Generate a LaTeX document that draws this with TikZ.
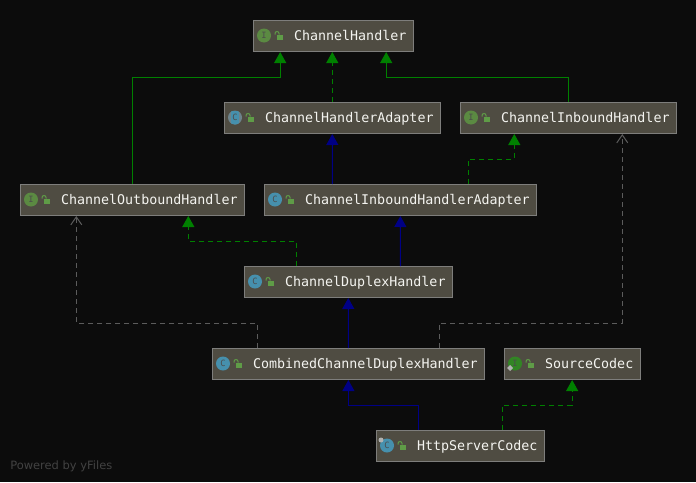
\documentclass[tikz,border=0pt]{standalone}
\usepackage{fontspec}
\setmainfont{DejaVu Sans}
\setmonofont{DejaVu Sans Mono}
\usetikzlibrary{arrows.meta}
\definecolor{canvascol}{HTML}{0C0C0C}
\definecolor{boxcol}{HTML}{4F4C42}
\definecolor{rimcol}{HTML}{7E7E7C}
\definecolor{inkcol}{HTML}{F4F4F0}
\definecolor{interfacecol}{HTML}{5B8A42}
\definecolor{classcol}{HTML}{4690AD}
\definecolor{lockcol}{HTML}{5F9C47}
\definecolor{greencol}{HTML}{008000}
\definecolor{bluecol}{HTML}{000085}
\definecolor{usescol}{HTML}{5C5C5C}
\tikzset{
  classbox/.style={draw=rimcol,line width=0.75pt,fill=boxcol,anchor=west,minimum height=23.25pt,
    inner xsep=5.25pt,inner ysep=0pt,outer sep=0pt,text=inkcol,text height=8.5pt,text depth=1pt,
    font=\ttfamily\fontsize{10}{10}\selectfont,execute at begin node=\hspace*{25.5pt}},
  roundicon/.style={circle,inner sep=0pt,minimum size=10.5pt,text=black!70,font=\ttfamily\fontsize{6.5}{6.5}\selectfont},
  interfaceicon/.style={roundicon,fill=interfacecol},
  classicon/.style={roundicon,fill=classcol},
  abstracticon/.style={roundicon,fill=rimcol!70!classcol,
    path picture={\fill[classcol] ([shift={(-4,-7)}]path picture bounding box.center) rectangle ++(8,14);}},
  solidgreen/.style={draw=greencol,line width=0.75pt,-{Triangle[width=9pt,length=8.25pt]},shorten >=0.75pt},
  dashedgreen/.style={solidgreen,dash pattern=on 3.75pt off 3pt},
  solidblue/.style={draw=bluecol,line width=0.75pt,-{Triangle[width=9pt,length=8.25pt]},shorten >=0.75pt},
  usesline/.style={draw=usescol,line width=0.75pt,dash pattern=on 3.75pt off 3pt,-{Straight Barb[width=8.25pt,length=6pt]},shorten >=0.75pt},
  lockicon/.pic={
    \fill[lockcol] (-2,-1) rectangle (4,4.5);
    \draw[lockcol,line width=0.75pt] (-4,-1) -- (-4,-2) arc[start angle=180,end angle=360,radius=2] -- (0,-1);
  }
}
\begin{document}
\begin{tikzpicture}[x=0.75pt,y=-0.75pt]
\fill[canvascol] (0,0) rectangle (696,482);
\useasboundingbox (0,0) rectangle (696,482);
% boxes
\node[classbox] (channelHandler) at (253,35.5) {ChannelHandler};
\node[classbox] (handlerAdapter) at (224,117.5) {ChannelHandlerAdapter};
\node[classbox] (inboundHandler) at (460,117.5) {ChannelInboundHandler};
\node[classbox] (outboundHandler) at (20,199.5) {ChannelOutboundHandler};
\node[classbox] (inboundAdapter) at (264,199.5) {ChannelInboundHandlerAdapter};
\node[classbox] (duplexHandler) at (244,281.5) {ChannelDuplexHandler};
\node[classbox] (combinedHandler) at (212,363.5) {CombinedChannelDuplexHandler};
\node[classbox] (sourceCodec) at (504,363.5) {SourceCodec};
\node[classbox] (serverCodec) at (376,445.5) {HttpServerCodec};
% icons
\node[interfaceicon] (channelHandlerIcon) at ([shift={(11,0)}]channelHandler.west) {I};
\node[abstracticon] (handlerAdapterIcon) at ([shift={(11,0)}]handlerAdapter.west) {C};
\node[interfaceicon] (inboundHandlerIcon) at ([shift={(11,0)}]inboundHandler.west) {I};
\node[interfaceicon] (outboundHandlerIcon) at ([shift={(11,0)}]outboundHandler.west) {I};
\node[classicon] (inboundAdapterIcon) at ([shift={(11,0)}]inboundAdapter.west) {C};
\node[classicon] (duplexHandlerIcon) at ([shift={(11,0)}]duplexHandler.west) {C};
\node[classicon] (combinedHandlerIcon) at ([shift={(11,0)}]combinedHandler.west) {C};
\node[interfaceicon,fill=greencol!45!interfacecol] (sourceCodecIcon) at ([shift={(11,0)}]sourceCodec.west) {I};
\node[classicon] (serverCodecIcon) at ([shift={(11,0)}]serverCodec.west) {C};
\fill[rimcol!60!white] ([shift={(-8,4.5)}]sourceCodecIcon.center) -- ++(3,-3) -- ++(3,3) -- ++(-3,3) -- cycle;
\fill[rimcol!60!white] ([shift={(-6,-5.5)}]serverCodecIcon.center) circle[radius=2.5];
% locks
\foreach \boxname in {channelHandler,handlerAdapter,inboundHandler,outboundHandler,inboundAdapter,duplexHandler,combinedHandler,sourceCodec,serverCodec}
  \pic at ([shift={(26,0)}]\boxname.west) {lockicon};
% connectors
\draw[solidgreen] (outboundHandler.north) |- ([shift={(-53,26)}]channelHandler.south) -- ([shift={(-53,0)}]channelHandler.south);
\draw[dashedgreen] (handlerAdapter.north) -- (handlerAdapter.north |- channelHandler.south);
\draw[solidgreen] (inboundHandler.north) |- ([shift={(53,26)}]channelHandler.south) -- ([shift={(53,0)}]channelHandler.south);
\draw[solidblue] ([shift={(-68,0)}]inboundAdapter.north) -- (handlerAdapter.south);
\draw[dashedgreen] ([shift={(68,0)}]inboundAdapter.north) |- ([shift={(-54,26)}]inboundHandler.south) -- ([shift={(-54,0)}]inboundHandler.south);
\draw[solidblue] ([shift={(52,0)}]duplexHandler.north) -- (inboundAdapter.south);
\draw[dashedgreen] ([shift={(-52,0)}]duplexHandler.north) |- ([shift={(56,26)}]outboundHandler.south) -- ([shift={(56,0)}]outboundHandler.south);
\draw[solidblue] (combinedHandler.north) -- (duplexHandler.south);
\draw[usesline] ([shift={(-91,0)}]combinedHandler.north) |- ([shift={(-56,108)}]outboundHandler.south) -- ([shift={(-56,0)}]outboundHandler.south);
\draw[usesline] ([shift={(91,0)}]combinedHandler.north) |- ([shift={(54,190)}]inboundHandler.south) -- ([shift={(54,0)}]inboundHandler.south);
\draw[solidblue] ([shift={(-42,0)}]serverCodec.north) |- ([shift={(0,26)}]combinedHandler.south) -- (combinedHandler.south);
\draw[dashedgreen] ([shift={(42,0)}]serverCodec.north) |- ([shift={(0,26)}]sourceCodec.south) -- (sourceCodec.south);
\node[anchor=west,inner sep=0pt,text=white!22!canvascol,font=\fontsize{8.6}{9}\selectfont] (poweredBy) at (10,466) {Powered by yFiles};
\end{tikzpicture}
\end{document}
